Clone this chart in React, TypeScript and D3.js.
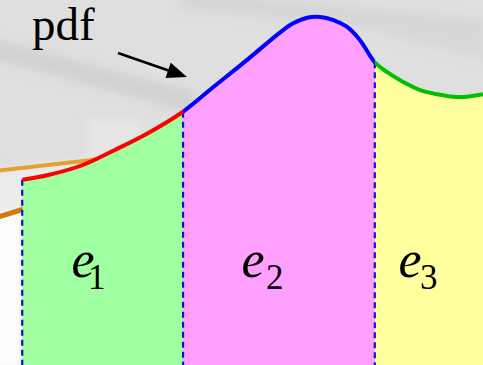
import React from "react";
import * as d3 from "d3";

const W = 483;
const H = 365;

// Sampled probability density: position and density value
const pdfX = [0.46, 1.0, 1.7, 2.38, 3.06, 3.79, 4.41, 5.11, 5.8, 6.07, 6.36, 6.63, 6.89, 7.18, 7.45, 7.76, 8.01, 8.34, 8.7, 9.05, 9.46, 9.73, 10.0];
const pdfY = [0.266, 0.273, 0.287, 0.309, 0.333, 0.364, 0.399, 0.438, 0.478, 0.491, 0.499, 0.5, 0.496, 0.486, 0.467, 0.435, 0.421, 0.407, 0.395, 0.389, 0.385, 0.386, 0.389];

// Interval boundaries splitting the support into e1, e2, e3
const edges = [0.46, 3.79, 7.76, 10.0];
const labelSubs = ["1", "2", "3"];

// Styles per interval
const fillColors = ["#a0ffa0", "#ff9fff", "#ffffa0"];
const lineColors = ["#ff0000", "#0000ff", "#00c000"];
const labelX = [71.5, 241.5, 398.5];
const subShift = [-6.5, 1.5, -1.5];

const serif = "'Liberation Serif', 'Times New Roman', serif";

export default function App() {
  const x = d3.scaleLinear().domain([0, 10]).range([0, W]);
  const y = d3.scaleLinear().domain([0, 0.5]).range([H, 17]);

  const pts: [number, number][] = pdfX.map((v, i) => [v, pdfY[i]]);
  const curve = d3.curveCatmullRom.alpha(0.5);
  const lineGen = d3
    .line<[number, number]>()
    .x((d) => x(d[0]))
    .y((d) => y(d[1]))
    .curve(curve);
  const areaGen = d3
    .area<[number, number]>()
    .x((d) => x(d[0]))
    .y0(y(0))
    .y1((d) => y(d[1]))
    .curve(curve);

  const linePath = lineGen(pts) || "";
  const areaPath = areaGen(pts) || "";

  const densityAt = (v: number) => {
    const i = d3.bisectLeft(pdfX, v);
    if (i <= 0) return pdfY[0];
    if (i >= pdfX.length) return pdfY[pdfX.length - 1];
    const t = (v - pdfX[i - 1]) / (pdfX[i] - pdfX[i - 1]);
    return pdfY[i - 1] + t * (pdfY[i] - pdfY[i - 1]);
  };

  // Arrow pointing at the curve
  const a0 = [118, 53];
  const a1 = [187, 77];
  const dx = a1[0] - a0[0];
  const dy = a1[1] - a0[1];
  const len = Math.hypot(dx, dy);
  const ux = dx / len;
  const uy = dy / len;
  const headL = 20;
  const headW = 8;
  const bx = a1[0] - ux * headL;
  const by = a1[1] - uy * headL;
  const head = `${a1[0]},${a1[1]} ${bx - uy * headW},${by + ux * headW} ${bx + uy * headW},${by - ux * headW}`;

  return (
    <svg
      width={W}
      height={H}
      viewBox={`0 0 ${W} ${H}`}
      style={{ position: "absolute", left: 0, top: 0, display: "block" }}
    >
      <defs>
        <filter id="soft" x="-20%" y="-20%" width="140%" height="140%">
          <feGaussianBlur stdDeviation="4" />
        </filter>
        <filter id="softLine">
          <feGaussianBlur stdDeviation="0.7" />
        </filter>
        {edges.slice(0, -1).map((e, i) => (
          <clipPath id={`seg${i}`} key={i}>
            <rect
              x={x(e)}
              y={0}
              width={(i === edges.length - 2 ? W + 10 : x(edges[i + 1])) - x(e)}
              height={H}
            />
          </clipPath>
        ))}
      </defs>

      {/* backdrop */}
      <rect x={0} y={0} width={W} height={H} fill="#dfdfdf" />
      <g filter="url(#soft)">
        <polygon points="-10,38 -10,58 195,114 195,92" fill="#d2d2d2" />
        <polygon points="180,-10 483,20 483,40 180,8" fill="#d6d6d6" />
        <polygon points="380,20 490,44 490,60 380,34" fill="#d8d8d8" />
        <polygon points="-10,171 110,158 110,370 -10,370" fill="#ececec" />
        <polygon points="-10,219 22,210 22,370 -10,370" fill="#fcfcfc" />
        <polygon points="88,120 140,120 140,160 88,160" fill="#e6e6e6" />
      </g>
      <g filter="url(#softLine)">
        <line x1={-5} y1={171} x2={110} y2={158} stroke="#e4a22a" strokeWidth={4} />
        <line x1={-5} y1={218} x2={24} y2={209} stroke="#cf7a10" strokeWidth={5} />
      </g>

      {/* shaded intervals */}
      {fillColors.map((c, i) => (
        <path key={`a${i}`} d={areaPath} fill={c} clipPath={`url(#seg${i})`} />
      ))}

      {/* interval boundaries */}
      {edges.slice(0, -1).map((e, i) => (
        <line
          key={`d${i}`}
          x1={x(e)}
          x2={x(e)}
          y1={y(densityAt(e))}
          y2={H}
          stroke="#1010cc"
          strokeWidth={2.2}
          strokeDasharray="6 4"
        />
      ))}

      {/* density curve */}
      {lineColors.map((c, i) => (
        <path
          key={`l${i}`}
          d={linePath}
          fill="none"
          stroke={c}
          strokeWidth={4}
          clipPath={`url(#seg${i})`}
        />
      ))}

      {/* interval labels */}
      {labelSubs.map((s, i) => (
        <text key={`t${i}`} x={labelX[i]} y={277} fontFamily={serif} fill="#000">
          <tspan fontStyle="italic" fontSize={52}>e</tspan>
          <tspan fontSize={35} dx={subShift[i]} dy={12}>{s}</tspan>
        </text>
      ))}

      {/* pdf annotation */}
      <text x={32} y={40} fontFamily={serif} fontSize={47} fill="#000">pdf</text>
      <line x1={a0[0]} y1={a0[1]} x2={bx + ux * 2} y2={by + uy * 2} stroke="#000" strokeWidth={2.6} />
      <polygon points={head} fill="#000" />
    </svg>
  );
}
